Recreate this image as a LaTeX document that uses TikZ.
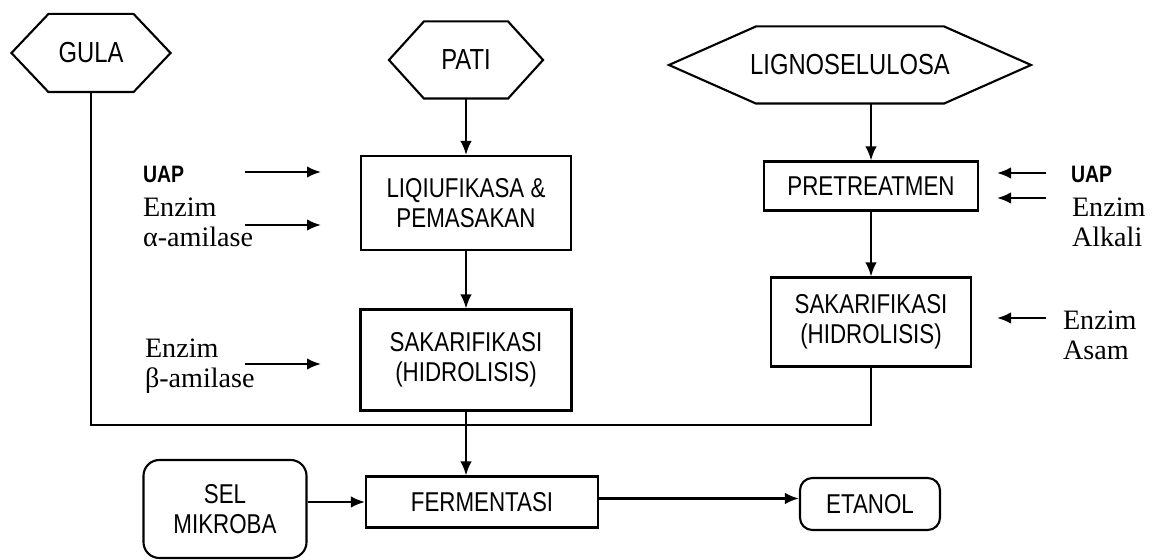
\documentclass[tikz,border=0pt]{standalone}
\usepackage{fontspec}
\setmainfont{Liberation Serif}
\newfontfamily\boxfont{Liberation Sans}[FakeStretch=0.82]
\usetikzlibrary{arrows.meta,positioning}

\begin{document}
\begin{tikzpicture}[
    line width=1.2pt,
    proc/.style={draw, rectangle, align=center, inner sep=0pt, font=\boxfont\fontsize{15.5}{17}\selectfont},
    hexa/.style={rectangle, align=center, inner sep=0pt, font=\boxfont\fontsize{16.5}{18}\selectfont},
    term/.style={proc, rounded corners=7pt},
    inp/.style={anchor=west, align=left, inner sep=0pt, font=\fontsize{16}{17}\selectfont},
    uap/.style={anchor=west, inner sep=0pt, font=\boxfont\bfseries\fontsize{13.5}{15}\selectfont},
    arr/.style={-{Latex[length=2.8mm,width=2.3mm]}}
  ]
    \useasboundingbox (0,0) rectangle (23.06,11.2);

    % sources
    \node[hexa, minimum width=3.14cm, minimum height=1.52cm] (gula) at (1.82,10.14) {GULA};
    \node[hexa, minimum width=3.04cm, minimum height=1.5cm] (pati) at (9.32,10.0) {PATI};
    \node[hexa, minimum width=7.2cm, minimum height=1.5cm] (ligno) at (17.0,9.9) {LIGNOSELULOSA};
    \foreach \h/\d in {gula/0.74, pati/0.7, ligno/1.74}
      \draw ([xshift=\d cm]\h.north west) -- ([xshift=-\d cm]\h.north east) -- (\h.east)
        -- ([xshift=-\d cm]\h.south east) -- ([xshift=\d cm]\h.south west) -- (\h.west) -- cycle;

    % process steps
    \node[proc, minimum width=4.2cm, minimum height=1.88cm] (liq) at (9.32,7.14) {LIQIUFIKASA \&\\PEMASAKAN};
    \node[proc, minimum width=4.22cm, minimum height=2.02cm] (sak1) at (9.32,4.0) {SAKARIFIKASI\\(HIDROLISIS)};
    \node[proc, minimum width=4.28cm, minimum height=0.98cm] (pre) at (17.42,7.48) {PRETREATMEN};
    \node[proc, minimum width=4.0cm, minimum height=1.78cm] (sak2) at (17.42,4.76) {SAKARIFIKASI\\(HIDROLISIS)};
    \node[proc, minimum width=4.64cm, minimum height=1.02cm] (ferm) at (9.64,1.16) {FERMENTASI};
    \node[term, rounded corners=9pt, minimum width=3.26cm, minimum height=1.96cm] (sel) at (4.5,1.02) {SEL\\MIKROBA};
    \node[term, minimum width=2.8cm, minimum height=1.04cm] (etanol) at (17.4,1.12) {ETANOL};

    % inputs
    \node[uap] (uapL) at (2.84,7.72) {UAP};
    \node[inp] (enzL) at (2.84,6.76) {Enzim\\α-amilase};
    \node[inp] (enzB) at (2.88,3.88) {Enzim\\β-amilase};
    \node[uap] (uapR) at (21.4,7.72) {UAP};
    \node[inp] (enzR) at (21.42,6.75) {Enzim\\Alkali};
    \node[inp] (enzA) at (21.24,4.5) {Enzim\\Asam};

    \foreach \n/\y in {a/7.76, b/6.7, c/3.92} {
      \coordinate (l\n1) at (4.9,\y);
      \coordinate (l\n2) at (6.42,\y);
      \draw[arr] (l\n1) -- (l\n2);
    }
    \foreach \n/\y in {a/7.74, b/7.24, c/4.84} {
      \coordinate (r\n1) at (20.92,\y);
      \coordinate (r\n2) at (19.94,\y);
      \draw[arr] (r\n1) -- (r\n2);
    }

    % flow
    \draw[arr] (pati) -- (liq);
    \draw[arr] (liq) -- (sak1);
    \draw[arr] (ligno.south -| pre.north) -- (pre.north);
    \draw[arr] (pre) -- (sak2);
    \coordinate (mix) at (9.32,2.7);
    \draw (gula.south) |- (mix) -| (sak2.south);
    \draw[arr] (sak1.south) -- (sak1.south |- ferm.north);
    \draw[arr] (sel.east |- ferm.west) -- (ferm.west);
    \draw[arr] ([yshift=2pt]ferm.east) -- ([yshift=2pt]ferm.east -| etanol.west);
  \end{tikzpicture}
\end{document}
